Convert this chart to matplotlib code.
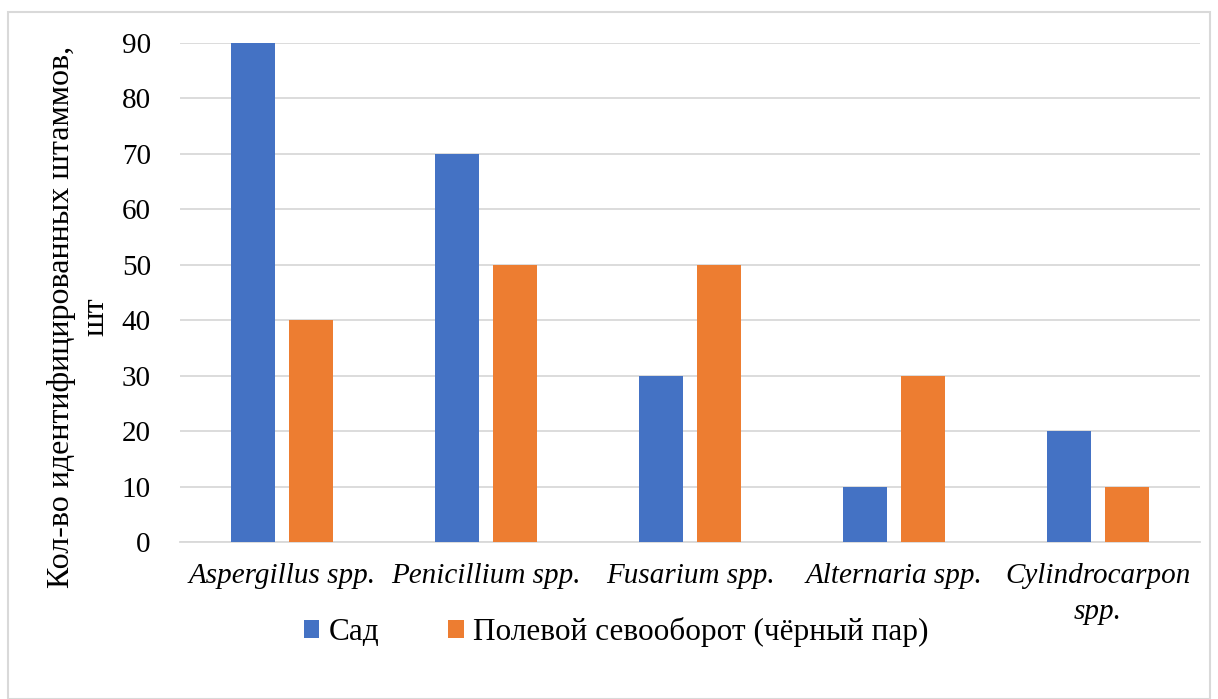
import numpy as np
import matplotlib.pyplot as plt
from matplotlib.patches import Rectangle

# data
categories = ['Aspergillus spp.', 'Penicillium spp.', 'Fusarium spp.',
              'Alternaria spp.', 'Cylindrocarpon\nspp.']
sad = [90, 70, 30, 10, 20]
pole = [40, 50, 50, 30, 10]
series_names = ['Сад', 'Полевой севооборот (чёрный пар)']
yticks = [0, 10, 20, 30, 40, 50, 60, 70, 80, 90]

plt.rcParams['font.family'] = 'serif'
plt.rcParams['font.serif'] = ['Liberation Serif', 'Times New Roman', 'DejaVu Serif']

fig = plt.figure(figsize=(12.18, 6.99), dpi=100)
ax = fig.add_axes([180/1218, 1-542/699, (1200-180)/1218, (542-43)/699])

x = np.arange(len(categories))
w = 0.22
off = 0.142
ax.bar(x - off, sad, w, color='#4472C4', label=series_names[0], zorder=3)
ax.bar(x + off, pole, w, color='#ED7D31', label=series_names[1], zorder=3)

ax.set_xlim(-0.5, len(categories) - 0.5)
ax.set_ylim(0, 90)
ax.set_yticks(yticks)
ax.set_xticks(x)
ax.set_xticklabels(categories, fontstyle='italic', fontsize=21, linespacing=1.5)
ax.tick_params(axis='y', labelsize=21, length=0, pad=21)
ax.tick_params(axis='x', length=0, pad=15)
ax.grid(axis='y', color='#D9D9D9', linewidth=1.3, zorder=0)
for s in ['top', 'right', 'left']:
    ax.spines[s].set_visible(False)
ax.spines['bottom'].set_color('#D9D9D9')
ax.spines['bottom'].set_linewidth(1.3)

fig.text(79/1218, 1-317/699, 'Кол-во идентифицированных штаммов,\nшт',
         rotation=90, ha='center', va='center', fontsize=23, linespacing=1.25)

fig.legend(loc='center', bbox_to_anchor=(616/1218, 1-632/699), ncol=2,
           frameon=False, fontsize=22.5, handlelength=0.5, handleheight=0.5,
           handletextpad=0.3, columnspacing=2.2)

# outer frame
fig.patches.append(Rectangle((8/1218, 0), 1202/1218, 1-12/699,
                             transform=fig.transFigure, fill=False,
                             edgecolor='#D9D9D9', linewidth=1.5))

fig.savefig('out.png', dpi=100)
